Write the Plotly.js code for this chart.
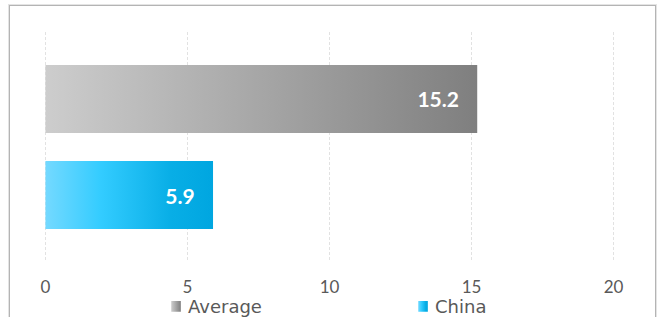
<!DOCTYPE html>
<html><head><meta charset="utf-8">
<script src="https://cdn.plot.ly/plotly-3.0.1.min.js"></script>
<style>
html,body{margin:0;padding:0;background:#fff;overflow:hidden;}
#chart{width:665px;height:317px;}
#frame{position:absolute;left:9px;top:5px;width:645px;height:330px;border:1px solid #b4b4b4;box-shadow:0 0 0 1px #e4e4e4;pointer-events:none;}
</style>
</head><body>
<div id="chart"></div><div id="frame"></div>
<script>
// Data
const seriesNames = ['Average', 'China'];
const seriesValues = [15.2, 5.9];
const category = ['Indicator'];
const xTickValues = [0, 5, 10, 15, 20];

const baseColors = ['#a6a6a6', '#1ebdf0'];
const gradients = [
  [[0, '#cdcdcd'], [1, '#7f7f7f']],
  [[0, '#74d9ff'], [0.33, '#33ccff'], [0.75, '#08aee6'], [1, '#00a6e0']]
];

const traces = seriesNames.map((name, i) => ({
  type: 'bar',
  orientation: 'h',
  name: name,
  x: [seriesValues[i]],
  y: category,
  marker: {color: baseColors[i]},
  text: [seriesValues[i].toFixed(1) + '\u00a0\u00a0\u00a0'],
  textposition: 'inside',
  insidetextanchor: 'end',
  textangle: 0,
  insidetextfont: {family: 'Lato, sans-serif', size: 21, color: '#ffffff', weight: 'bold'},
  hoverinfo: 'none',
  cliponaxis: false
}));

const layout = {
  width: 665, height: 317,
  margin: {l: 44, r: 50, t: 32, b: 55, autoexpand: false},
  paper_bgcolor: '#ffffff', plot_bgcolor: '#ffffff',
  barmode: 'group',
  bargap: 0.165,
  bargroupgap: 0.29,
  showlegend: true,
  legend: {
    orientation: 'h', xref: 'container', yref: 'container',
    x: 0.2226, xanchor: 'left', y: 0.091, yanchor: 'top',
    entrywidth: 202, entrywidthmode: 'pixels', itemwidth: 30,
    font: {family: 'DejaVu Sans, sans-serif', size: 18, color: '#595959'},
    bgcolor: 'rgba(0,0,0,0)'
  },
  xaxis: {
    range: [-0.05, 20.05], tickvals: xTickValues, ticktext: xTickValues.map(String),
    showgrid: true, gridcolor: '#e2e2e2', griddash: '3px,2px', gridwidth: 1,
    zeroline: false, showline: false, ticks: '',
    ticklabelstandoff: 13,
    tickfont: {family: 'Lato, sans-serif', size: 17, color: '#595959'},
    fixedrange: true
  },
  yaxis: {
    autorange: 'reversed', showticklabels: false, showgrid: false,
    zeroline: false, showline: false, ticks: '', fixedrange: true
  }
};

function applyGradients(gd) {
  const svg = gd.querySelector('.main-svg');
  const NS = 'http://www.w3.org/2000/svg';
  let defs = svg.querySelector('defs');
  if (!defs) { defs = document.createElementNS(NS, 'defs'); svg.insertBefore(defs, svg.firstChild); }
  gradients.forEach((stops, i) => {
    const id = 'barGrad' + i;
    if (svg.querySelector('#' + id)) return;
    const lg = document.createElementNS(NS, 'linearGradient');
    lg.setAttribute('id', id);
    lg.setAttribute('x1', '0'); lg.setAttribute('y1', '0');
    lg.setAttribute('x2', '1'); lg.setAttribute('y2', '0');
    stops.forEach(s => {
      const st = document.createElementNS(NS, 'stop');
      st.setAttribute('offset', s[0]);
      st.setAttribute('stop-color', s[1]);
      lg.appendChild(st);
    });
    defs.appendChild(lg);
  });
  gd.querySelectorAll('.barlayer .trace.bars').forEach((g, i) => {
    g.querySelectorAll('.point path').forEach(p => { p.style.fill = 'url(#barGrad' + i + ')'; });
  });
  gd.querySelectorAll('.legend .traces').forEach((g, i) => {
    g.querySelectorAll('.legendpoints path').forEach(p => {
      p.style.fill = 'url(#barGrad' + i + ')';
      p.style.stroke = 'none';
      const t = p.getAttribute('transform') || '';
      p.setAttribute('transform', t + ' translate(8,0) scale(0.8,0.9)');
    });
  });
}

Plotly.newPlot('chart', traces, layout, {displayModeBar: false, staticPlot: true}).then(applyGradients);
</script>
</body></html>
